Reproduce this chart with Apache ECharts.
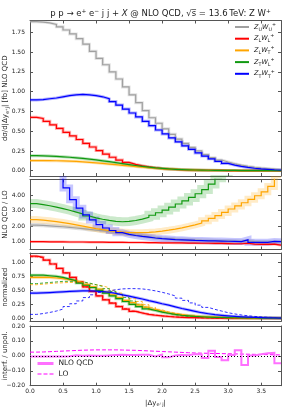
<!DOCTYPE html>
<html><head><meta charset="utf-8">
<script src="https://cdn.jsdelivr.net/npm/echarts@6/dist/echarts.min.js"></script>
<style>html,body{margin:0;padding:0;background:#fff}#c{width:293px;height:410px}</style>
</head><body><div id="c"></div>
<script>
// ---- bin edges (categories) and tick labels ----
const edges = [0.0,0.1,0.2,0.3,0.4,0.5,0.6,0.7,0.8,0.9,1.0,1.1,1.2,1.3,1.4,1.5,1.6,1.7,1.8,1.9,2.0,2.1,2.2,2.3,2.4,2.5,2.6,2.7,2.8,2.9,3.0,3.1,3.2,3.3,3.4,3.5,3.6,3.7,3.8];
const xTicks = [0,0.5,1,1.5,2,2.5,3,3.5];
const y1Ticks = [0,0.25,0.5,0.75,1,1.25,1.5,1.75];
const y2Ticks = [1,2,3,4];
const y3Ticks = [0,0.25,0.5,0.75,1];
const y4Ticks = [-0.2,-0.1,0,0.1,0.2];

// ---- panel 1: dsigma/d|dy| [fb] NLO QCD ----
const xsecZUWU = [1.885,1.88,1.87,1.85,1.82,1.78,1.73,1.67,1.60,1.51,1.42,1.34,1.25,1.16,1.06,0.96,0.86,0.76,0.67,0.60,0.53,0.46,0.40,0.345,0.295,0.25,0.205,0.165,0.135,0.11,0.088,0.07,0.056,0.044,0.034,0.026,0.019,0.013];
const xsecZLWL = [0.675,0.66,0.625,0.58,0.535,0.485,0.44,0.395,0.345,0.30,0.255,0.21,0.17,0.135,0.105,0.08,0.062,0.048,0.037,0.028,0.021,0.016,0.012,0.009,0.007,0.005,0.004,0.003,0.003,0.002,0.002,0.002,0.001,0.001,0.001,0.001,0.001,0.001];
const xsecZLWT = [0.128,0.128,0.127,0.126,0.124,0.121,0.117,0.112,0.106,0.099,0.092,0.084,0.076,0.068,0.06,0.052,0.045,0.038,0.031,0.026,0.021,0.017,0.013,0.01,0.008,0.006,0.005,0.004,0.003,0.003,0.002,0.002,0.002,0.001,0.001,0.001,0.001,0.001];
const xsecZTWL = [0.19,0.188,0.185,0.181,0.176,0.17,0.163,0.155,0.146,0.136,0.125,0.114,0.102,0.09,0.078,0.066,0.055,0.045,0.036,0.029,0.023,0.018,0.014,0.011,0.009,0.007,0.006,0.005,0.004,0.003,0.003,0.002,0.002,0.002,0.001,0.001,0.001,0.001];
const xsecZTWT = [0.895,0.90,0.91,0.92,0.935,0.95,0.96,0.965,0.96,0.95,0.935,0.91,0.875,0.83,0.78,0.73,0.68,0.625,0.57,0.515,0.465,0.415,0.365,0.315,0.27,0.225,0.185,0.15,0.118,0.092,0.071,0.054,0.041,0.031,0.023,0.017,0.012,0.009];

// ---- panel 2: NLO QCD / LO ----
const ratioZUWU = [2.07,2.05,2.02,1.99,1.96,1.92,1.88,1.84,1.79,1.75,1.71,1.66,1.61,1.56,1.5,1.43,1.37,1.31,1.26,1.22,1.19,1.16,1.14,1.12,1.1,1.08,1.07,1.06,1.05,1.04,1.03,1.02,1.06,1.0,0.98,0.98,0.99,1.0];
const ratioZLWL = [1.0,1.0,0.99,0.99,0.99,0.98,0.98,0.98,0.97,0.97,0.97,0.96,0.96,0.96,0.95,0.95,0.95,0.94,0.94,0.93,0.93,0.92,0.92,0.91,0.91,0.9,0.9,0.89,0.89,0.88,0.87,0.87,0.9,0.84,0.83,0.83,0.84,0.78];
const ratioZLWT = [2.42,2.38,2.34,2.29,2.23,2.16,2.08,2.0,1.92,1.84,1.77,1.71,1.66,1.62,1.59,1.58,1.58,1.6,1.63,1.68,1.74,1.81,1.89,1.98,2.08,2.2,2.34,2.5,2.68,2.88,3.1,3.3,3.5,3.72,3.95,4.2,4.55,5.3];
const ratioZTWL = [3.45,3.38,3.31,3.22,3.12,3.02,2.9,2.78,2.65,2.53,2.44,2.37,2.31,2.28,2.3,2.36,2.45,2.56,2.7,2.86,3.03,3.22,3.42,3.62,3.84,4.08,4.35,4.7,5.1,5.5,6.0,6.5,7.0,7.5,8.0,8.5,9.0,9.5];
const ratioZTWT = [40,22,13,8.5,5.9,4.45,3.7,3.15,2.72,2.4,2.1,1.88,1.72,1.58,1.47,1.4,1.34,1.29,1.24,1.2,1.17,1.14,1.12,1.1,1.08,1.07,1.06,1.05,1.04,1.03,1.02,1.01,1.12,0.96,0.96,0.96,1.02,1.0];

// ---- panel 3: normalized (solid NLO QCD, dashed LO) ----
const normNloZLWL = [1.11,1.09,1.04,0.97,0.89,0.81,0.73,0.65,0.56,0.48,0.40,0.33,0.27,0.21,0.165,0.125,0.095,0.07,0.055,0.042,0.032,0.024,0.018,0.014,0.011,0.008,0.006,0.005,0.004,0.003,0.003,0.002,0.002,0.002,0.001,0.001,0.001,0.001];
const normLoZLWL  = [1.10,1.08,1.04,0.97,0.89,0.81,0.73,0.65,0.56,0.48,0.40,0.335,0.275,0.215,0.17,0.13,0.098,0.073,0.057,0.044,0.034,0.025,0.019,0.015,0.012,0.009,0.007,0.005,0.004,0.003,0.003,0.002,0.002,0.002,0.001,0.001,0.001,0.001];
const normNloZLWT = [0.73,0.73,0.73,0.72,0.71,0.69,0.67,0.64,0.60,0.56,0.52,0.47,0.42,0.37,0.32,0.28,0.24,0.20,0.16,0.13,0.10,0.08,0.065,0.05,0.04,0.032,0.025,0.02,0.016,0.013,0.01,0.008,0.006,0.005,0.004,0.003,0.003,0.002];
const normLoZLWT  = [0.60,0.61,0.62,0.63,0.635,0.64,0.64,0.635,0.62,0.60,0.58,0.545,0.50,0.45,0.40,0.35,0.30,0.245,0.195,0.15,0.115,0.09,0.068,0.05,0.038,0.028,0.021,0.016,0.012,0.009,0.007,0.005,0.004,0.003,0.002,0.002,0.001,0.001];
const normNloZTWL = [0.77,0.77,0.76,0.75,0.73,0.70,0.67,0.63,0.59,0.55,0.50,0.45,0.40,0.35,0.30,0.25,0.21,0.17,0.14,0.11,0.09,0.07,0.055,0.045,0.035,0.028,0.022,0.018,0.015,0.012,0.01,0.008,0.007,0.006,0.005,0.004,0.004,0.003];
const normLoZTWL  = [0.62,0.63,0.64,0.65,0.66,0.66,0.66,0.65,0.63,0.60,0.57,0.53,0.48,0.43,0.37,0.31,0.25,0.20,0.155,0.12,0.09,0.065,0.048,0.035,0.025,0.018,0.013,0.009,0.007,0.005,0.004,0.003,0.002,0.002,0.001,0.001,0.001,0.001];
const normNloZTWT = [0.45,0.455,0.46,0.467,0.473,0.48,0.485,0.49,0.49,0.485,0.475,0.465,0.445,0.42,0.395,0.37,0.345,0.315,0.29,0.26,0.235,0.205,0.175,0.15,0.125,0.1,0.082,0.066,0.053,0.042,0.033,0.026,0.02,0.016,0.012,0.009,0.007,0.005];
const normLoZTWT  = [0.07,0.085,0.105,0.13,0.165,0.21,0.26,0.31,0.37,0.42,0.46,0.49,0.51,0.525,0.53,0.53,0.525,0.51,0.49,0.465,0.435,0.40,0.36,0.32,0.275,0.235,0.195,0.16,0.13,0.10,0.078,0.06,0.045,0.034,0.025,0.018,0.013,0.01];

// ---- panel 4: interf. / unpol. ----
const interfNlo = [-0.004,-0.004,-0.004,-0.004,-0.004,-0.003,0.004,0.0,0.002,0.0,0.001,0.003,0.005,0.007,0.006,0.006,0.008,0.007,-0.004,0.008,-0.01,0.002,0.006,0.004,0.012,0.01,-0.015,0.034,-0.008,-0.03,0.005,0.038,-0.062,0.002,0.01,0.017,0.02,-0.05];
const interfLo  = [0.025,0.026,0.028,0.03,0.032,0.034,0.036,0.038,0.039,0.04,0.04,0.04,0.04,0.039,0.038,0.037,0.035,0.033,0.031,0.029,0.027,0.025,0.023,0.021,0.019,0.018,0.017,0.016,0.015,0.014,0.013,0.012,0.011,0.01,0.009,0.008,0.007,0.006];

// ---- styling ----
const FONT = 'DejaVu Sans';
const C = {gray:'#a0a0a0', red:'#ff0000', orange:'#ffa500', green:'#119911', blue:'#0000ff', mag:'#ff00ff', pink:'#ff70ff'};
const AX = '#555';
const grids = [
  {left:30, top:20.5, width:251, height:155.5},
  {left:30, top:179.4, width:251, height:70.1},
  {left:30, top:253, width:251, height:68.4},
  {left:30, top:326, width:251, height:59.7}
];
const yRanges = [[-0.067,1.9],[0.5,5.0],[-0.055,1.166],[-0.2,0.2]];
const yTicks = [y1Ticks,y2Ticks,y3Ticks,y4Ticks];
const fmtY = v => (v < 0 ? '\u2212' : '') + Math.abs(v).toFixed(2);

const subRich = {
  sub:{fontSize:5, lineHeight:5, verticalAlign:'bottom', fontFamily:FONT, color:'#222'},
  sup:{fontSize:5, lineHeight:5, verticalAlign:'top', fontFamily:FONT, color:'#222'},
  it:{fontStyle:'italic', fontFamily:FONT, color:'#222'}
};
const yNames = [
  'd\u03c3/d|\u0394y{sub|e\u207aj}| [fb] NLO QCD',
  'NLO QCD / LO',
  'normalized',
  'interf. / unpol.'
];

const xAxes = [], yAxes = [];
for (let g = 0; g < 4; g++) {
  const last = g === 3;
  xAxes.push({type:'value', gridIndex:g, position:'bottom', min:0, max:3.8,
    axisLine:{show:true, onZero:false, lineStyle:{color:AX, width:1}},
    axisTick:{show:true, inside:true, length:3, customValues:xTicks, lineStyle:{color:AX}},
    axisLabel:{show:last, customValues:xTicks, formatter:v=>v.toFixed(1), fontSize:6, fontFamily:FONT, color:'#222', margin:3},
    splitLine:{show:false},
    name: last ? '|\u0394y{sub|e\u207aj}|' : '', nameLocation:'middle', nameGap:13, nameMoveOverlap:false,
    nameTextStyle:{fontSize:7, fontFamily:FONT, color:'#222', lineHeight:9, rich:subRich}
  });
  xAxes.push({type:'value', gridIndex:g, position:'top', min:0, max:3.8,
    axisLine:{show:true, onZero:false, lineStyle:{color:AX, width:1}},
    axisTick:{show:true, inside:true, length:3, customValues:xTicks, lineStyle:{color:AX}},
    axisLabel:{show:false}, splitLine:{show:false}});
  yAxes.push({type:'value', gridIndex:g, position:'left', min:yRanges[g][0], max:yRanges[g][1],
    axisLine:{show:true, onZero:false, lineStyle:{color:AX, width:1}},
    axisTick:{show:true, inside:true, length:3, customValues:yTicks[g], lineStyle:{color:AX}},
    axisLabel:{show:true, customValues:yTicks[g], formatter:fmtY, fontSize:6, fontFamily:FONT, color:'#222', margin:5},
    splitLine:{show:false},
    name:yNames[g], nameLocation:'middle', nameRotate:90, nameGap:20, nameMoveOverlap:false,
    nameTextStyle:{fontSize:7, fontFamily:FONT, color:'#222', lineHeight:9, rich:subRich}
  });
  yAxes.push({type:'value', gridIndex:g, position:'right', min:yRanges[g][0], max:yRanges[g][1],
    axisLine:{show:true, onZero:false, lineStyle:{color:AX, width:1}},
    axisTick:{show:true, inside:true, length:3, customValues:yTicks[g], lineStyle:{color:AX}},
    axisLabel:{show:false}, splitLine:{show:false}});
}

const series = [];
const stepData = vals => edges.map((e,i) => [e, vals[Math.min(i, vals.length-1)]]);
function addLine(name, vals, g, color, width, o) {
  o = o || {};
  const s = {type:'line', name:name, xAxisIndex:2*g, yAxisIndex:2*g, data:stepData(vals), step:'end',
    symbol:'none', showSymbol:false, silent:true, animation:false, clip:true, z:o.z || 3,
    lineStyle:{color:color, width:width, type:o.dash || 'solid', opacity:(o.opacity===undefined?1:o.opacity), cap:'butt', join:'miter'},
    itemStyle:{color:color}};
  if (o.markLine) s.markLine = o.markLine;
  series.push(s);
}
function addBand(vals, g, color, width, opacity) {
  addLine('_band', vals, g, color, width, {opacity:opacity, z:2});
}

// panel 1
const p1 = [['ZUWU',xsecZUWU,C.gray],['ZLWL',xsecZLWL,C.red],['ZLWT',xsecZLWT,C.orange],['ZTWL',xsecZTWL,C.green],['ZTWT',xsecZTWT,C.blue]];
p1.forEach(p => addBand(p[1], 0, p[2], 3, 0.3));
p1.forEach(p => addLine(p[0], p[1], 0, p[2], 1.2));
// panel 2
const p2 = [[ratioZUWU,C.gray,4,0.35],[ratioZLWL,C.red,2.5,0.3],[ratioZLWT,C.orange,7,0.22],[ratioZTWL,C.green,9,0.22],[ratioZTWT,C.blue,7,0.22]];
p2.forEach(p => addBand(p[0], 1, p[1], p[2], p[3]));
p2.forEach((p,i) => addLine('r'+i, p[0], 1, p[1], 1.2));
// panel 3
const p3 = [[normNloZLWL,normLoZLWL,C.red],[normNloZLWT,normLoZLWT,C.orange],[normNloZTWL,normLoZTWL,C.green],[normNloZTWT,normLoZTWT,C.blue]];
p3.forEach(p => addLine('lo', p[1], 2, p[2], 1, {dash:[3,2], opacity:0.8}));
p3.forEach(p => addBand(p[0], 2, p[2], 3, 0.3));
p3.forEach((p,i) => addLine('n'+i, p[0], 2, p[2], 1.2));
// panel 4
addLine('LO', interfLo, 3, C.mag, 1, {dash:[4,2], markLine:{silent:true, symbol:'none', animation:false,
  label:{show:false}, lineStyle:{color:'#000', type:[1,2], width:1}, data:[{yAxis:0}]}});
addLine('NLO QCD', interfNlo, 3, C.pink, 2);

const legRich = {
  i:{fontStyle:'italic', fontSize:6.5, fontFamily:FONT, color:'#222'},
  s:{fontSize:4.8, lineHeight:5, verticalAlign:'bottom', fontFamily:FONT, color:'#222'},
  p:{fontSize:4.8, lineHeight:5, verticalAlign:'top', fontFamily:FONT, color:'#222'}
};
const legFmt = n => '{i|Z}{s|' + n[1] + '}{i|W}{s|' + n[3] + '}{p|+}';

const option = {
  animation:false,
  backgroundColor:'#fff',
  title:{text:'p p \u2192 e{sup|+} e{sup|\u2212} j j + {it|X} @ NLO QCD, \u221as\u0305 = 13.6\u2009TeV: Z W{sup|+}',
    left:155.5, top:3, textAlign:'center',
    textStyle:{fontSize:8.5, fontWeight:'normal', fontFamily:FONT, color:'#222', lineHeight:11,
      rich:{sup:{fontSize:5.8, lineHeight:5, verticalAlign:'top', fontFamily:FONT, color:'#222'},
            it:{fontStyle:'italic', fontSize:8.5, fontFamily:FONT, color:'#222'}}}},
  grid:grids.map(g => Object.assign({outerBoundsMode:'none', containLabel:false}, g)),
  xAxis:xAxes, yAxis:yAxes,
  legend:[
    {data:['ZUWU','ZLWL','ZLWT','ZTWL','ZTWT'], orient:'vertical', left:234, top:22, itemWidth:14, itemHeight:8, itemGap:1.7,
     selectedMode:false, padding:0, formatter:legFmt, itemStyle:{opacity:0}, lineStyle:{width:2},
     textStyle:{fontSize:6.5, fontFamily:FONT, color:'#222', lineHeight:10, rich:legRich}},
    {data:[{name:'NLO QCD', lineStyle:{width:3}}, {name:'LO', lineStyle:{width:1.2}}], orient:'vertical', left:36, top:359.5, itemWidth:16, itemHeight:8, itemGap:2.5,
     selectedMode:false, padding:0, itemStyle:{opacity:0},
     textStyle:{fontSize:7.5, fontFamily:FONT, color:'#222', lineHeight:8}}
  ],
  series:series
};
const chart = echarts.init(document.getElementById('c'), null, {renderer:'canvas'});
chart.setOption(option);
</script>
</body></html>
